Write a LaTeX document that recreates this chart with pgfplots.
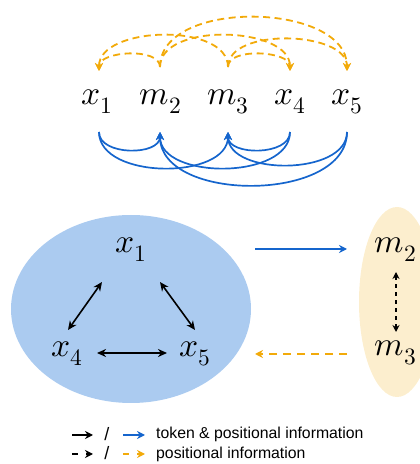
\documentclass[border=0pt]{standalone}
\usepackage{fontspec}
\usepackage{unicode-math}
\setmathfont{Latin Modern Math}
\newfontfamily\legfont{Liberation Sans}
\usepackage{pgfplots}
\pgfplotsset{compat=1.18}
\usetikzlibrary{arrows.meta}

\definecolor{tokblue}{RGB}{21,101,205}
\definecolor{posorange}{RGB}{242,170,10}
\definecolor{setblue}{RGB}{171,203,240}
\definecolor{setyellow}{RGB}{252,238,206}

\tikzset{
  lbl/.style={inner sep=0pt, anchor=base, font=\fontsize{33.5}{40}\selectfont},
  orng/.style={posorange, line width=1.8pt, dash pattern=on 7pt off 4.5pt,
    -{Stealth[length=8pt,width=8pt]}},
  blu/.style={tokblue, line width=1.7pt, -{Stealth[length=8pt,width=8pt]}},
  blk/.style={black, line width=1.6pt,
    {Stealth[length=9pt,width=8pt]}-{Stealth[length=9pt,width=8pt]}},
  leg/.style={inner sep=0pt, anchor=base west, font=\legfont\fontsize{15.8}{18}\selectfont},
}

\begin{document}
\begin{tikzpicture}
\begin{axis}[
    scale only axis,
    width=420pt, height=464pt,
    xmin=0, xmax=420, ymin=0, ymax=464,
    hide axis, clip=false,
  ]

  % sets
  \fill[setblue] (axis cs:131,155) ellipse [x radius=120pt, y radius=94pt];
  \fill[setyellow] (axis cs:397,162) ellipse [x radius=38pt, y radius=95pt];

  % top row of tokens
  \node[lbl] at (axis cs:97.5,359) {$x_1$};
  \node[lbl] at (axis cs:160.5,359) {$m_2$};
  \node[lbl] at (axis cs:228,359) {$m_3$};
  \node[lbl] at (axis cs:290,359) {$x_4$};
  \node[lbl] at (axis cs:347,359) {$x_5$};

  % positional information (dashed, above)
  \draw[orng] (axis cs:160,397) .. controls (axis cs:160,417) and (axis cs:99,413) .. (axis cs:99,393);
  \draw[orng] (axis cs:160,397) .. controls (axis cs:160,442) and (axis cs:290,438) .. (axis cs:290,393);
  \draw[orng] (axis cs:160,397) .. controls (axis cs:160,466) and (axis cs:347,462) .. (axis cs:347,393);
  \draw[orng] (axis cs:228,397) .. controls (axis cs:228,442) and (axis cs:99,438) .. (axis cs:99,393);
  \draw[orng] (axis cs:228,397) .. controls (axis cs:228,417) and (axis cs:290,413) .. (axis cs:290,393);
  \draw[orng] (axis cs:228,397) .. controls (axis cs:228,437) and (axis cs:347,433) .. (axis cs:347,393);

  % token & positional information (solid, below)
  \draw[blu] (axis cs:99,332) .. controls (axis cs:99,308) and (axis cs:160,308) .. (axis cs:160,332);
  \draw[blu] (axis cs:99,332) .. controls (axis cs:99,284) and (axis cs:228,284) .. (axis cs:228,332);
  \draw[blu] (axis cs:290,332) .. controls (axis cs:290,308) and (axis cs:228,308) .. (axis cs:228,332);
  \draw[blu] (axis cs:290,332) .. controls (axis cs:290,284) and (axis cs:160,284) .. (axis cs:160,332);
  \draw[blu] (axis cs:347,332) .. controls (axis cs:347,288) and (axis cs:228,288) .. (axis cs:228,332);
  \draw[blu] (axis cs:347,332) .. controls (axis cs:347,261) and (axis cs:160,261) .. (axis cs:160,332);

  % bottom: sets
  \node[lbl] at (axis cs:131,211) {$x_1$};
  \node[lbl] at (axis cs:67.5,107) {$x_4$};
  \node[lbl] at (axis cs:195,107) {$x_5$};
  \node[lbl] at (axis cs:395.5,211) {$m_2$};
  \node[lbl] at (axis cs:395.5,108) {$m_3$};

  \addplot[blk] coordinates {(102,182) (68,134)};
  \addplot[blk] coordinates {(160,182) (195,134)};
  \addplot[blk] coordinates {(97,111) (167,111)};
  \addplot[blu] coordinates {(255,215) (347,215)};
  \addplot[orng, dash pattern=on 8pt off 6pt] coordinates {(347,110) (255,110)};
  \addplot[black, line width=1.5pt, dash pattern=on 4pt off 4pt,
    {Stealth[length=7pt,width=7pt]}-{Stealth[length=7pt,width=7pt]}]
    coordinates {(396,192) (396,132)};

  % legend
  \addplot[black, line width=1.7pt, -{Stealth[length=8pt,width=8pt]}] coordinates {(72,29) (93,29)};
  \node[inner sep=0pt, anchor=base, font=\legfont\fontsize{18}{18}\selectfont] at (axis cs:107,23.5) {/};
  \addplot[tokblue, line width=1.7pt, -{Stealth[length=8pt,width=8pt]}] coordinates {(123,29) (145,29)};
  \node[leg] at (axis cs:156,25.5) {token \& positional information};

  \addplot[black, line width=1.7pt, dash pattern=on 6pt off 8pt, -{Stealth[length=8pt,width=8pt]}] coordinates {(72,10) (93,10)};
  \node[inner sep=0pt, anchor=base, font=\legfont\fontsize{18}{18}\selectfont] at (axis cs:107,4.5) {/};
  \addplot[posorange, line width=1.7pt, dash pattern=on 6pt off 8pt, -{Stealth[length=8pt,width=8pt]}] coordinates {(123,10) (145,10)};
  \node[leg] at (axis cs:156,5.5) {positional information};
\end{axis}
\pgfresetboundingbox
\useasboundingbox (0,0) rectangle (420pt,464pt);
\end{tikzpicture}
\end{document}
